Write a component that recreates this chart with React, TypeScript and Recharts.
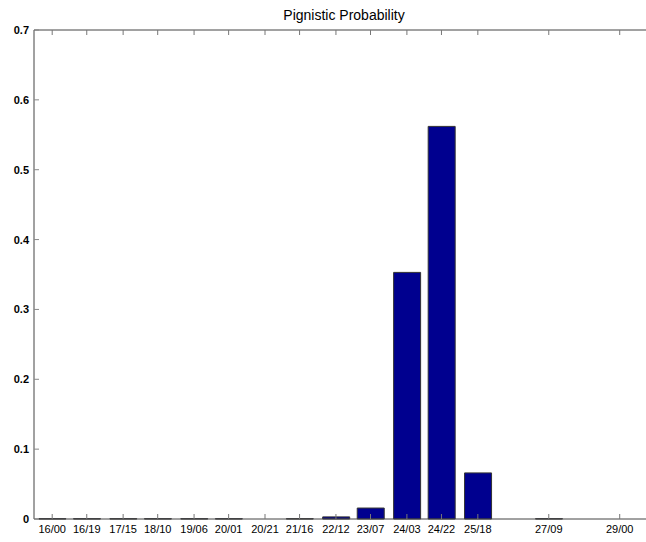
import React from 'react';
import { Bar, BarChart, ReferenceLine, XAxis, YAxis } from 'recharts';

// tick labels (day/hour) and their position in hours from 16/00
const tickLabels = ['16/00', '16/19', '17/15', '18/10', '19/06', '20/01', '20/21', '21/16', '22/12', '23/07', '24/03', '24/22', '25/18', '27/09', '29/00'];
const tickHours = [0, 19, 39, 58, 78, 97, 117, 136, 156, 175, 195, 214, 234, 273, 312];
// pignistic probability per tick (null = no bar)
const probValues = [0.0004, 0.0004, 0.0004, 0.0004, 0.0004, 0.0004, null, 0.0004, 0.003, 0.0157, 0.353, 0.562, 0.066, 0.0004, null];
const yTicks = [0, 0.1, 0.2, 0.3, 0.4, 0.5, 0.6, 0.7];

const data = tickHours.map((h, i) => ({ t: h, p: probValues[i] }));
const labelFor = (t: number) => tickLabels[tickHours.indexOf(t)] ?? '';

const font = 'Arial, "Liberation Sans", Helvetica, sans-serif';
const PLOT_TOP = 30;

const BottomTick = (props: any) => {
  const { x, y, payload } = props;
  return (
    <g>
      <line x1={x} x2={x} y1={y} y2={y - 5} stroke="#777" />
      <line x1={x} x2={x} y1={PLOT_TOP} y2={PLOT_TOP + 5} stroke="#777" />
      <text x={x} y={y + 14} textAnchor="middle" fontSize={11} fontFamily={font} fill="#000">
        {labelFor(payload.value)}
      </text>
    </g>
  );
};

const LeftTick = (props: any) => {
  const { x, y, payload } = props;
  return (
    <g>
      <line x1={x} x2={x + 5} y1={y} y2={y} stroke="#888" />
      <text x={x - 5} y={y + 4} textAnchor="end" fontSize={11} fontWeight="bold" fontFamily={font} fill="#000">
        {String(payload.value)}
      </text>
    </g>
  );
};

export default function App() {
  return (
    <div style={{ position: 'absolute', left: 0, top: 0, width: 646, height: 542, overflow: 'hidden', background: '#fff' }}>
      <div
        style={{
          position: 'absolute',
          top: 7,
          left: 0,
          width: 688,
          textAlign: 'center',
          fontFamily: font,
          fontSize: 14,
          lineHeight: '16px',
        }}
      >
        Pignistic Probability
      </div>
      <BarChart
        width={660}
        height={542}
        data={data}
        margin={{ top: PLOT_TOP, right: 13, bottom: 0, left: 0 }}
      >
        <XAxis
          dataKey="t"
          type="number"
          domain={[-10, 327]}
          ticks={tickHours}
          interval={0}
          height={23}
          tickSize={0}
          tickMargin={0}
          tick={<BottomTick />}
          axisLine={{ stroke: '#444' }}
          tickLine={false}
        />
        <YAxis
          domain={[0, 0.7]}
          ticks={yTicks}
          interval={0}
          width={34}
          tickSize={0}
          tickMargin={0}
          tick={<LeftTick />}
          axisLine={{ stroke: '#444' }}
          tickLine={false}
        />
        <ReferenceLine y={0.7} stroke="#444" ifOverflow="extendDomain" />
        <Bar
          dataKey="p"
          fill="#00008f"
          stroke="#333"
          strokeWidth={1}
          barSize={27}
          isAnimationActive={false}
        />
      </BarChart>
    </div>
  );
}
